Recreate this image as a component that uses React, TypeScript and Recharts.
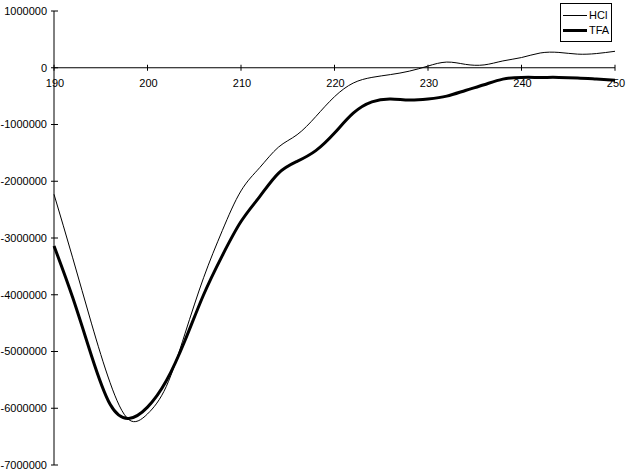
import { Legend, Line, LineChart, ReferenceDot, ReferenceLine, XAxis, YAxis } from "recharts";

const wavelengths = [
  190, 192, 194, 196, 198, 200, 202, 204, 206, 208, 210, 212, 214, 216, 218, 220,
  222, 224, 226, 228, 230, 232, 234, 236, 238, 240, 242, 244, 246, 248, 250,
];

const hcl = [
  -2230000, -3350000, -4500000, -5550000, -6200000, -6100000, -5620000, -4690000, -3700000, -2870000, -2170000,
  -1760000, -1400000, -1180000, -860000, -510000, -270000, -170000, -120000, -60000, 30000, 100000, 60000, 50000,
  120000, 180000, 260000, 270000, 240000, 250000, 290000,
];

const tfa = [
  -3140000, -4050000, -5070000, -5930000, -6180000, -5980000, -5520000, -4810000, -4000000, -3310000, -2710000,
  -2270000, -1860000, -1650000, -1460000, -1150000, -800000, -600000, -550000, -570000, -550000, -500000, -400000,
  -300000, -200000, -170000, -170000, -170000, -180000, -200000, -220000,
];

const xTicks = [190, 200, 210, 220, 230, 240, 250];
const yTicks = [1000000, 0, -1000000, -2000000, -3000000, -4000000, -5000000, -6000000, -7000000];

const data = wavelengths.map((wl, i) => ({ wl, HCl: hcl[i], TFA: tfa[i] }));

const font = "'Liberation Sans', Arial, sans-serif";

function YTick(props: any) {
  const { x, y, payload } = props;
  return (
    <g>
      <line x1={x - 3} x2={x + 4} y1={y} y2={y} stroke="#000" strokeWidth={1} />
      <text x={x - 7} y={y} dy="0.35em" textAnchor="end" fontSize={11} fontFamily={font} fill="#000">
        {payload.value}
      </text>
    </g>
  );
}

function xTickShape(value: number) {
  return (props: any) => {
    const { cx, cy } = props;
    return (
      <g>
        <line x1={cx} x2={cx} y1={cy - 3} y2={cy + 3} stroke="#000" strokeWidth={1} />
        <text x={cx + 1} y={cy + 19} textAnchor="middle" fontSize={11} fontFamily={font} fill="#000">
          {value}
        </text>
      </g>
    );
  };
}

function LegendBox() {
  return (
    <div
      style={{
        border: "1px solid #000",
        background: "#fff",
        width: 48,
        padding: "4px 0 3px 2px",
        fontFamily: font,
        fontSize: 11,
        lineHeight: "15px",
      }}
    >
      {[
        { name: "HCl", w: 1 },
        { name: "TFA", w: 3 },
      ].map((s) => (
        <div key={s.name} style={{ display: "flex", alignItems: "center" }}>
          <span style={{ display: "inline-block", width: 24, height: s.w, background: "#000", marginRight: 2 }} />
          <span>{s.name}</span>
        </div>
      ))}
    </div>
  );
}

export default function App() {
  return (
    <div style={{ position: "absolute", left: 0, top: 0, width: 627, height: 476, background: "#fff" }}>
      <LineChart width={627} height={476} data={data} margin={{ top: 11, right: 12, bottom: 11, left: 0 }}>
        <XAxis dataKey="wl" type="number" domain={[190, 250]} ticks={xTicks} hide />
        <YAxis
          type="number"
          domain={[-7000000, 1000000]}
          ticks={yTicks}
          width={54}
          tickLine={false}
          tickSize={0}
          tickMargin={0}
          axisLine={{ stroke: "#000" }}
          tick={<YTick />}
          interval={0}
        />
        <ReferenceLine y={0} stroke="#000" strokeWidth={1} />
        {xTicks.map((t) => (
          <ReferenceDot key={t} x={t} y={0} r={0} shape={xTickShape(t)} />
        ))}
        <Line type="natural" dataKey="HCl" stroke="#000" strokeWidth={1} dot={false} isAnimationActive={false} />
        <Line type="natural" dataKey="TFA" stroke="#000" strokeWidth={3} dot={false} isAnimationActive={false} />
        <Legend
          layout="vertical"
          align="center"
          verticalAlign="middle"
          content={<LegendBox />}
          wrapperStyle={{ position: "absolute", left: 560, top: 3, width: "auto" }}
        />
      </LineChart>
    </div>
  );
}
